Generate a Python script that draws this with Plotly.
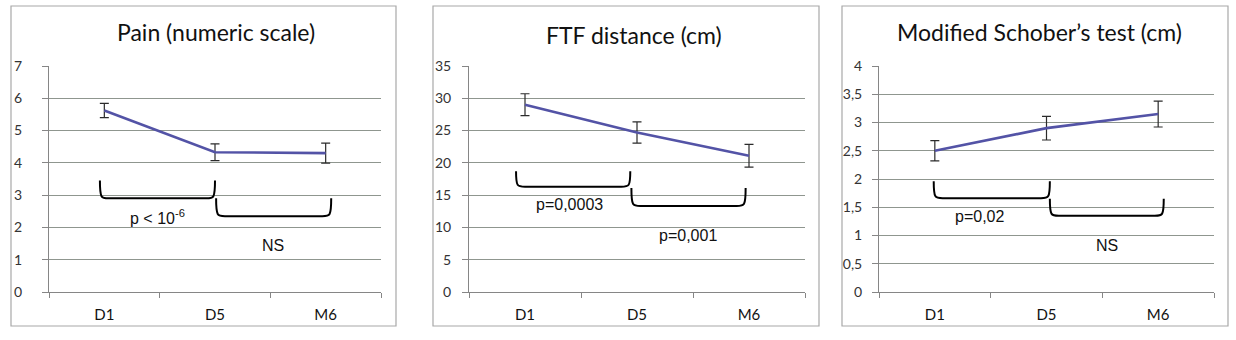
import plotly.graph_objects as go

# ---------------- data ----------------
categories = ["D1", "D5", "M6"]

pain_mean = [5.62, 4.33, 4.30]
pain_err = [0.22, 0.26, 0.31]

ftf_mean = [29.0, 24.7, 21.1]
ftf_err = [1.7, 1.65, 1.75]

schober_mean = [2.50, 2.90, 3.15]
schober_err = [0.18, 0.21, 0.23]

titles = ["Pain (numeric scale)", "FTF distance (cm)", "Modified Schober\u2019s test (cm)"]

pain_ticks = [0, 1, 2, 3, 4, 5, 6, 7]
pain_ticktext = ["0", "1", "2", "3", "4", "5", "6", "7"]
ftf_ticks = [0, 5, 10, 15, 20, 25, 30, 35]
ftf_ticktext = ["0", "5", "10", "15", "20", "25", "30", "35"]
schober_ticks = [0, 0.5, 1, 1.5, 2, 2.5, 3, 3.5, 4]
schober_ticktext = ["0", "0,5", "1", "1,5", "2", "2,5", "3", "3,5", "4"]

# comparison labels
pain_labels = ["p < 10<sup>-6</sup>", "NS"]
ftf_labels = ["p=0,0003", "p=0,001"]
schober_labels = ["p=0,02", "NS"]

# ---------------- layout helpers ----------------
W, H = 1236, 340
LINE = "#5353a6"
GRID = "#8f968f"
AXIS = "#868686"
BORDER = "#a8a8a8"
TFONT = "Lato"
AFONT = "Liberation Sans"

panels = [
    dict(mean=pain_mean, err=pain_err, ymax=7, ticks=pain_ticks, ticktext=pain_ticktext,
         xpx=(49, 381), border=(11, 396), title_xy=(216, 32), standoff=17,
         brackets=[(-0.04, 1.00, 3.45, 2.90), (1.01, 2.05, 2.90, 2.35)],
         labels=[(0.476, 2.33), (1.52, 1.45)], texts=pain_labels),
    dict(mean=ftf_mean, err=ftf_err, ymax=35, ticks=ftf_ticks, ticktext=ftf_ticktext,
         xpx=(469, 805), border=(433, 819), title_xy=(634, 35), standoff=8,
         brackets=[(-0.08, 0.94, 18.7, 16.3), (0.95, 1.97, 16.1, 13.3)],
         labels=[(0.40, 13.5), (1.455, 8.8)], texts=ftf_labels),
    dict(mean=schober_mean, err=schober_err, ymax=4, ticks=schober_ticks, ticktext=schober_ticktext,
         xpx=(879, 1214), border=(842, 1228), title_xy=(1039, 32), standoff=7,
         brackets=[(-0.01, 1.03, 1.96, 1.66), (1.03, 2.05, 1.65, 1.35)],
         labels=[(0.40, 1.33), (1.54, 0.83)], texts=schober_labels),
]

ytop_px, ybot_px = 66, 292

fig = go.Figure()
shapes = []
annotations = []

for i, p in enumerate(panels):
    k = "" if i == 0 else str(i + 1)
    xa, ya = "x" + k, "y" + k
    fig.add_trace(go.Scatter(
        x=[0, 1, 2], y=p["mean"], mode="lines",
        line=dict(color=LINE, width=2.6),
        error_y=dict(type="data", array=p["err"], visible=True,
                     color="#2b2b2b", thickness=1.2, width=4.5),
        xaxis=xa, yaxis=ya, showlegend=False, hoverinfo="skip"))

    dom_x = [p["xpx"][0] / W, p["xpx"][1] / W]
    dom_y = [1 - ybot_px / H, 1 - ytop_px / H]
    fig.layout["xaxis" + k] = dict(
        domain=dom_x, anchor=ya, range=[-0.5, 2.5], automargin=False,
        tickvals=[0, 1, 2], ticktext=categories, ticks="", showgrid=False,
        showline=True, linecolor=AXIS, linewidth=1, zeroline=False,
        tickfont=dict(family=TFONT, size=15, color="#111111"),
        ticklabelstandoff=9,
        minor=dict(tickvals=[-0.5, 0.5, 1.5, 2.5], ticks="outside", ticklen=5,
                   tickcolor=AXIS, tickwidth=1, showgrid=False),
        fixedrange=True)
    fig.layout["yaxis" + k] = dict(
        domain=dom_y, anchor=xa, range=[0, p["ymax"]], automargin=False,
        tickvals=p["ticks"], ticktext=p["ticktext"],
        ticks="outside", ticklen=6, tickcolor=AXIS,
        showgrid=True, gridcolor=GRID, gridwidth=1,
        showline=True, linecolor=AXIS, linewidth=1, zeroline=False,
        tickfont=dict(family=TFONT, size=14, color="#333333"),
        ticklabelstandoff=p["standoff"], fixedrange=True)

    # panel border
    shapes.append(dict(type="rect", xref="paper", yref="paper",
                       x0=p["border"][0] / W, x1=p["border"][1] / W,
                       y0=1 - 326 / H, y1=1 - 6 / H,
                       line=dict(color=BORDER, width=1.2), fillcolor="rgba(0,0,0,0)", layer="below"))
    # title
    annotations.append(dict(text=titles[i], xref="paper", yref="paper",
                            x=p["title_xy"][0] / W, y=1 - p["title_xy"][1] / H,
                            xanchor="center", yanchor="middle", showarrow=False,
                            font=dict(family=TFONT, size=23, color="#111111")))
    # brackets
    for (x0, x1, top, bot) in p["brackets"]:
        dx = 0.08
        dxc = 0.012
        path = (f"M {x0},{top} C {x0},{bot} {x0 + dxc},{bot} {x0 + dx},{bot} "
                f"L {x1 - dx},{bot} C {x1 - dxc},{bot} {x1},{bot} {x1},{top}")
        shapes.append(dict(type="path", xref=xa, yref=ya, path=path,
                           line=dict(color="#000000", width=2)))
    for (lx, ly), txt in zip(p["labels"], p["texts"]):
        annotations.append(dict(text=txt, xref=xa, yref=ya, x=lx, y=ly,
                                xanchor="center", yanchor="middle", showarrow=False,
                                font=dict(family=AFONT, size=16, color="#111111")))

fig.update_layout(
    width=W, height=H, margin=dict(l=0, r=0, t=0, b=0, autoexpand=False),
    paper_bgcolor="white", plot_bgcolor="white",
    shapes=shapes, annotations=annotations)

fig.write_html(
    "out.html",
    config={"displayModeBar": False},
    post_script="document.body.style.margin='0';document.body.style.overflow='hidden';",
)
